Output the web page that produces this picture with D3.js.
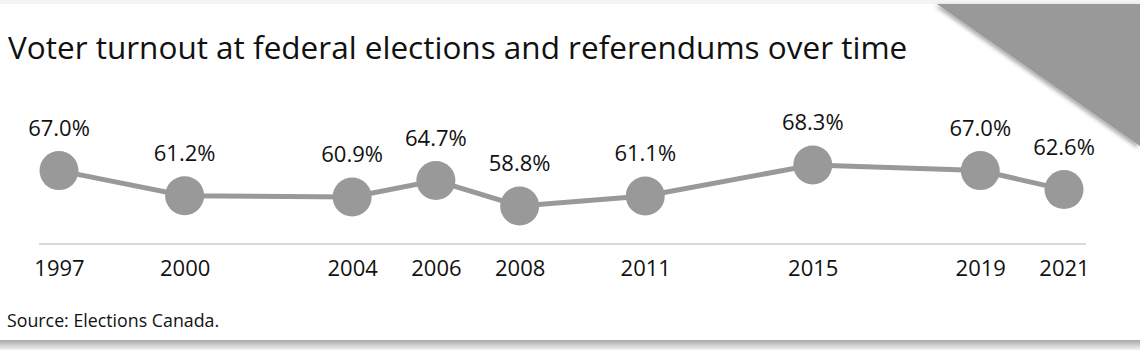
<!DOCTYPE html>
<html lang="en">
<head>
<meta charset="UTF-8">
<title>Voter turnout</title>
<script src="https://d3js.org/d3.v7.min.js"></script>
<style>
  body { margin: 0; background: #fff; }
  svg { display: block; font-family: "Open Sans", sans-serif; }
</style>
</head>
<body>
<svg id="chart" width="1140" height="350"></svg>
<script>
  // data
  const years = [1997, 2000, 2004, 2006, 2008, 2011, 2015, 2019, 2021];
  const turnout = [67.0, 61.2, 60.9, 64.7, 58.8, 61.1, 68.3, 67.0, 62.6];
  const titleText = "Voter turnout at federal elections and referendums over time";
  const sourceText = "Source: Elections Canada.";

  const svg = d3.select("#chart");
  const W = 1140, H = 350;

  const defs = svg.append("defs");
  const shade = defs.append("linearGradient").attr("id", "shade")
    .attr("x1", 0).attr("y1", 0).attr("x2", 0).attr("y2", 1);
  shade.append("stop").attr("offset", "0%").attr("stop-color", "#a8a8a8");
  shade.append("stop").attr("offset", "100%").attr("stop-color", "#f2f2f2");
  const blur = defs.append("filter").attr("id", "soft")
    .attr("x", "-20%").attr("y", "-20%").attr("width", "140%").attr("height", "140%");
  blur.append("feDropShadow").attr("dx", -2).attr("dy", 2)
    .attr("stdDeviation", 2).attr("flood-color", "#000").attr("flood-opacity", 0.35);

  // card background
  svg.append("rect").attr("width", W).attr("height", 4).attr("fill", "#f4f4f4");
  svg.append("rect").attr("y", 340).attr("width", W).attr("height", 10).attr("fill", "url(#shade)");
  svg.append("rect").attr("y", 4).attr("width", W).attr("height", 336).attr("fill", "#fff");

  // corner triangle
  svg.append("path")
    .attr("d", "M937,4L1140,4L1140,146Z")
    .attr("fill", "#999")
    .attr("filter", "url(#soft)");

  svg.append("text")
    .attr("x", 8).attr("y", 59)
    .attr("font-size", 31.5)
    .attr("fill", "#111")
    .text(titleText);

  const x = d3.scaleLinear().domain([1997, 2021]).range([59, 1064]);
  const y = d3.scaleLinear().domain([58.8, 68.3]).range([206, 165]);

  const data = years.map((yr, i) => ({ year: yr, value: turnout[i] }));

  // baseline axis
  const axis = d3.axisBottom(x).tickValues(years).tickFormat(d3.format("d")).tickSize(0).tickPadding(16);
  const ax = svg.append("g").attr("transform", "translate(0,244)").call(axis);
  ax.select(".domain").remove();
  ax.append("line").attr("x1", 39).attr("x2", 1086).attr("stroke", "#d9d9d9").attr("stroke-width", 2);
  ax.selectAll(".tick text")
    .attr("font-family", "Open Sans, sans-serif")
    .attr("font-size", 22)
    .attr("fill", "#111");

  svg.append("path")
    .datum(data)
    .attr("fill", "none")
    .attr("stroke", "#999")
    .attr("stroke-width", 5)
    .attr("d", d3.line().x(d => x(d.year)).y(d => y(d.value)));

  svg.append("g").selectAll("circle")
    .data(data)
    .join("circle")
    .attr("cx", d => x(d.year))
    .attr("cy", d => y(d.value))
    .attr("r", 19.5)
    .attr("fill", "#999");

  svg.append("g").selectAll("text")
    .data(data)
    .join("text")
    .attr("x", d => x(d.year))
    .attr("y", d => y(d.value) - 35)
    .attr("text-anchor", "middle")
    .attr("font-size", 22)
    .attr("fill", "#111")
    .text(d => d.value.toFixed(1) + "%");

  svg.append("text")
    .attr("x", 7).attr("y", 327)
    .attr("font-size", 17.8)
    .attr("fill", "#111")
    .text(sourceText);
</script>
</body>
</html>
